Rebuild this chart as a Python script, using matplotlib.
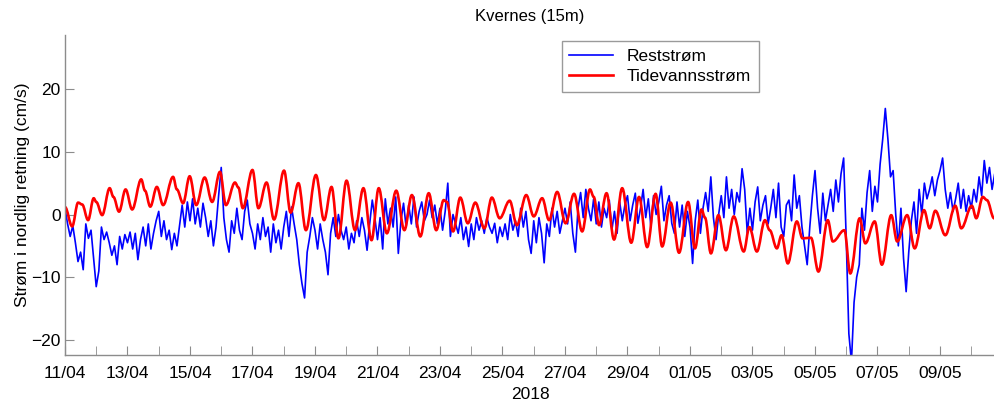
import matplotlib
matplotlib.use("Agg")
import matplotlib.pyplot as plt
import matplotlib.dates as mdates
from matplotlib.path import Path
from matplotlib.patches import PathPatch
import numpy as np
import datetime as dt

plt.rcParams['font.family'] = ['Liberation Sans', 'DejaVu Sans']

# start of record
start = dt.datetime(2018, 4, 11)

# Reststrøm, one row per day, one value every 2 hours (cm/s)
rest_days = [
    [1.0, -1.5, -3.5, -1.8, -4.5, -7.5, -6.0, -8.8, -1.5, -3.8, -2.5, -7.0],
    [-11.5, -9.0, -2.0, -4.0, -2.8, -4.5, -6.5, -5.0, -8.0, -3.5, -5.5, -3.2],
    [-4.5, -2.8, -5.5, -3.0, -7.2, -4.0, -2.0, -5.0, -1.5, -5.5, -3.0, -1.0],
    [0.5, -3.5, -1.0, -4.0, -2.5, -5.6, -3.0, -5.0, -1.8, 1.5, -2.0, 2.0],
    [-1.0, 2.5, -1.5, 1.0, -2.0, 1.8, -0.5, -3.5, -1.0, -5.0, -2.0, 3.0],
    [7.5, -0.5, -4.0, -6.0, -1.0, -3.0, 1.0, -2.5, -4.0, 0.5, 2.3, -1.5],
    [-3.0, -5.5, -1.5, -4.0, -0.5, -3.5, -2.0, -6.0, -1.5, -4.5, -2.5, -5.5],
    [-2.0, 0.5, -3.5, 1.2, -1.5, -4.0, -8.0, -11.0, -13.3, -6.0, -3.5, -0.5],
    [-2.5, -5.5, -1.5, -4.0, -6.0, -9.6, -3.0, -0.5, -3.5, 0.0, -2.5, -4.0],
    [-2.0, -5.5, -3.0, -4.5, -1.0, -3.5, -0.5, -2.5, -5.7, -1.5, 2.3, -0.5],
    [-4.0, -0.5, -5.5, 2.5, -1.5, 1.0, -2.0, 2.8, -6.2, -1.0, 1.8, -2.0],
    [1.5, -1.5, 2.8, -2.0, 0.5, 2.0, -1.0, 0.0, 2.3, -0.5, 1.5, -1.5],
    [1.0, -2.5, 0.5, 5.0, -3.5, 0.0, -1.5, -3.0, -0.5, -4.0, -2.0, -5.1],
    [-1.5, -4.0, -0.5, -2.5, -1.0, -3.0, -0.5, -2.0, -3.0, -1.4, -4.5, -2.0],
    [-3.5, -1.5, -4.0, 0.0, -2.5, -1.0, -3.5, 1.0, -2.0, 0.5, -4.0, -6.2],
    [-1.0, -4.5, -0.5, -3.0, -7.7, -1.5, -3.5, 1.0, -2.0, 0.5, -3.0, -1.0],
    [1.0, -1.5, 2.0, -3.0, -6.0, 1.0, 3.5, -0.5, 4.0, 1.0, -1.0, 2.5],
    [-1.5, 2.0, -2.0, 1.0, -0.5, 2.3, -2.5, 0.5, -3.0, 2.0, -1.0, 1.5],
    [3.0, -1.0, 1.5, 3.4, -1.4, 1.0, 4.0, -0.5, 2.5, -2.0, 3.0, 0.0],
    [2.0, 4.5, -1.0, 1.5, 3.0, -1.4, -3.0, 2.0, -2.0, 1.5, -3.5, 0.5],
    [-2.0, -7.8, -1.0, 2.3, -3.0, 1.0, 3.5, 0.5, 6.0, -0.5, -4.0, 0.0],
    [3.0, -0.5, 6.0, 1.0, 4.0, 0.0, 3.5, 2.0, 7.3, 4.0, -3.0, 1.0],
    [-2.5, 2.0, 4.4, -1.0, 1.5, 3.0, -1.5, 1.0, 4.0, -0.5, 5.0, -2.0],
    [-3.5, 1.5, 2.3, -1.0, 6.3, 1.0, 3.0, -2.0, -5.0, -8.0, -2.0, 3.0],
    [7.0, 1.0, -3.0, 3.4, -1.0, 1.5, 4.0, 0.5, 5.5, 2.0, 6.5, 9.0],
    [-4.0, -19.0, -23.5, -14.0, -10.0, -8.0, 1.0, -2.5, 3.5, 7.0, 0.5, 4.5],
    [2.0, 8.0, 12.0, 16.9, 12.0, 6.0, 7.0, 0.0, -5.0, 1.0, -7.0, -12.3],
    [-6.0, -1.0, 2.0, -3.0, 4.0, 0.0, 5.0, 2.5, 4.0, 6.0, 3.0, 5.5],
    [7.0, 9.0, 4.0, 1.0, 3.5, 0.5, 2.5, 5.0, 1.0, 4.0, 0.5, 3.0],
    [1.0, 4.0, 2.0, 6.0, 3.0, 8.6, 5.0, 7.5, 4.0, 6.5, 5.5, 7.0],
]

# Tidevannsstrøm, turning points (days after start, cm/s)
tide_day = [0.0, 0.23, 0.42, 0.55, 0.74, 0.92, 1.0, 1.19, 1.43, 1.55, 1.73, 1.94,
            2.15, 2.44, 2.56, 2.73, 2.94, 3.14, 3.46, 3.58, 3.78, 3.99, 4.2, 4.47,
            4.71, 4.96, 5.15, 5.44, 5.55, 5.69, 6.0, 6.19, 6.45, 6.69, 7.01, 7.22,
            7.47, 7.71, 8.03, 8.29, 8.53, 8.75, 9.01, 9.28, 9.55, 9.81, 10.04, 10.3,
            10.6, 10.86, 11.1, 11.37, 11.64, 11.88, 12.12, 12.22, 12.42, 12.65, 12.89, 13.13,
            13.42, 13.66, 13.91, 14.23, 14.46, 14.76, 15.0, 15.27, 15.49, 15.75, 16.02, 16.29,
            16.55, 16.8, 16.92, 17.09, 17.33, 17.57, 17.83, 18.12, 18.37, 18.63, 18.9, 19.11,
            19.38, 19.65, 19.94, 20.16, 20.37, 20.48, 20.67, 20.91, 21.15, 21.4, 21.72, 21.9,
            22.14, 22.4, 22.55, 22.78, 22.93, 23.13, 23.42, 23.6, 23.87, 24.11, 24.41, 24.57,
            24.94, 25.13, 25.43, 25.61, 25.91, 26.14, 26.44, 26.63, 26.95, 27.19, 27.49, 27.67,
            27.85, 28.17, 28.49, 28.68, 29.02, 29.16, 29.37, 29.5, 29.73, 29.8]
tide_val = [1.2, -1.9, 1.9, 1.6, -0.9, 2.6, 2.0, -0.1, 4.2, 2.8, 0.45, 4.0,
            0.8, 5.6, 3.8, 1.25, 4.4, 1.5, 6.0, 4.0, 1.8, 6.1, 1.5, 5.9,
            2.0, 6.8, 1.5, 5.1, 4.3, 1.0, 7.1, 1.0, 5.1, -0.8, 7.0, 0.3,
            5.0, -2.5, 6.3, -0.9, 4.4, -3.8, 5.4, -2.5, 4.2, -4.1, 4.2, -3.0,
            3.8, -2.5, 3.1, -3.5, 3.4, -2.5, 2.3, 2.0, -2.7, 2.7, -1.4, 1.9,
            -2.2, 2.7, -0.6, 2.2, -1.7, 3.1, -0.3, 2.6, -0.9, 3.6, -1.4, 3.3,
            -2.7, 4.0, 2.8, -1.7, 3.4, -4.0, 4.2, -4.5, 2.8, -5.2, 3.3, -5.1,
            1.9, -6.1, 2.0, -5.4, 0.8, -0.5, -6.2, -0.1, -5.7, -0.3, -5.9, -2.0,
            -5.9, -0.9, -2.5, -5.4, -3.3, -7.8, -1.1, -3.8, -3.7, -9.1, -0.9, -4.3,
            -2.5, -9.4, -0.6, -4.6, -1.1, -8.0, -0.1, -4.3, -0.1, -5.4, 0.7, -2.2,
            0.6, -3.3, 1.4, -2.2, 1.4, -0.6, 2.8, 2.3, -0.6, -0.8]

y_ticks = [-20, -10, 0, 10, 20]

rest = np.concatenate(rest_days)
rest_t = [start + dt.timedelta(hours=2 * i) for i in range(len(rest))]
tide_x = mdates.date2num([start + dt.timedelta(days=d) for d in tide_day])

fig = plt.figure(figsize=(9.95, 4.03), dpi=100)
ax = fig.add_axes([0.0653, 0.119, 0.9347, 0.794])

ax.plot(rest_t, rest, color='#0000ff', lw=1.2, label='Reststrøm')

# tide drawn as a smooth curve through the turning points (flat at each one)
verts = [(tide_x[0], tide_val[0])]
codes = [Path.MOVETO]
for i in range(1, len(tide_x)):
    x0, y0 = tide_x[i - 1], tide_val[i - 1]
    x1, y1 = tide_x[i], tide_val[i]
    h = 0.36 * (x1 - x0)
    verts += [(x0 + h, y0), (x1 - h, y1), (x1, y1)]
    codes += [Path.CURVE4] * 3
ax.add_patch(PathPatch(Path(verts, codes), fill=False, edgecolor='#ff0000',
                       lw=1.9, capstyle='round', joinstyle='round', zorder=2.5))
ax.plot([], [], color='#ff0000', lw=1.9, label='Tidevannsstrøm')

ax.set_xlim(start, start + dt.timedelta(days=29.76))
ax.set_ylim(-22.4, 28.6)
ax.set_yticks(y_ticks)

ax.xaxis.set_major_locator(mdates.DayLocator(interval=2))
ax.xaxis.set_minor_locator(mdates.DayLocator())
ax.xaxis.set_major_formatter(mdates.DateFormatter('%d/%m'))

for side in ['top', 'right']:
    ax.spines[side].set_visible(False)
for side in ['left', 'bottom']:
    ax.spines[side].set_color('#8c8c8c')
    ax.spines[side].set_linewidth(1.0)

ax.tick_params(which='both', direction='in', length=6.5, color='#8c8c8c',
               labelsize=12.5)
ax.tick_params(axis='x', pad=8)
ax.tick_params(axis='y', pad=3)

ax.set_title('Kvernes (15m)', fontsize=12, pad=10)
ax.set_xlabel('2018', fontsize=12.5, labelpad=4)
ax.set_ylabel('Strøm i nordlig retning (cm/s)', fontsize=12.5, labelpad=1)

leg = ax.legend(loc='upper left', bbox_to_anchor=(0.534, 0.981), borderaxespad=0,
                fontsize=12.5, fancybox=False, framealpha=1, handlelength=2.5,
                borderpad=0.45, labelspacing=0.3, handletextpad=0.8)
leg.get_frame().set_edgecolor('#9a9a9a')
leg.get_frame().set_linewidth(1.0)
leg.set_zorder(5)

fig.savefig('out.png', dpi=100)
